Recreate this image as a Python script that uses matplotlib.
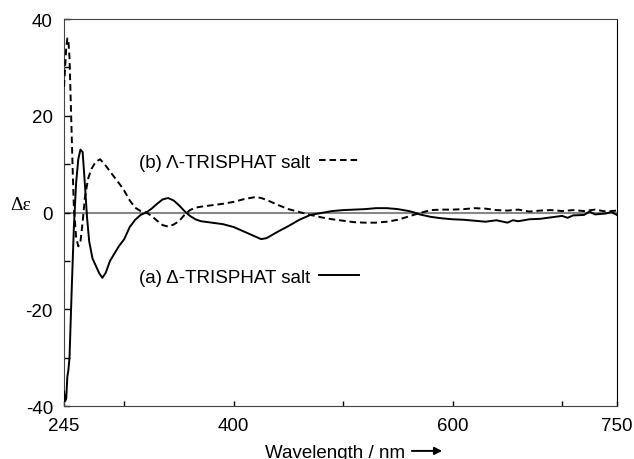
import numpy as np
import matplotlib
matplotlib.use("Agg")
import matplotlib.pyplot as plt

plt.rcParams['font.family'] = ['Liberation Sans', 'DejaVu Sans']

# (a) Delta-TRISPHAT salt (solid)
wl_a = [245, 246, 247, 248, 249, 250, 252, 254, 256, 258, 260, 262, 264, 266, 268,
        271, 274, 277, 280, 283, 287, 291, 295, 300, 305, 310, 315, 320, 325, 330,
        335, 340, 345, 350, 355, 360, 365, 370, 380, 390, 400, 410, 420, 425, 430,
        440, 450, 460, 470, 480, 490, 500, 510, 520, 530, 540, 550, 560, 565, 570,
        580, 590, 600, 610, 620, 630, 640, 650, 655, 660, 670, 680, 690, 700, 705,
        710, 720, 725, 730, 740, 745, 750]
de_a = [-37, -39, -38.5, -34, -32.5, -30, -16, -3, 6, 11, 13, 12.5, 6, -1, -6,
        -9.5, -11, -12.5, -13.5, -12.5, -10, -8.5, -7, -5.5, -3, -1.5, -0.5, 0, 0.8, 1.8,
        2.7, 3.0, 2.5, 1.5, 0.3, -0.7, -1.4, -1.8, -2.1, -2.4, -3.0, -4.0, -5.0, -5.5, -5.3,
        -4.0, -2.8, -1.5, -0.5, -0.1, 0.3, 0.5, 0.6, 0.7, 0.9, 0.9, 0.7, 0.3, 0.0, -0.4,
        -0.9, -1.2, -1.4, -1.5, -1.7, -1.9, -1.6, -2.1, -1.6, -1.8, -1.4, -1.3, -1.0, -0.7, -1.1,
        -0.6, -0.5, 0.2, -0.4, -0.2, 0.1, -0.5]

# (b) Lambda-TRISPHAT salt (dashed)
wl_b = [245, 246, 247, 248, 249, 250, 251, 252, 253, 254, 256, 258, 260, 262, 264,
        267, 270, 274, 278, 282, 287, 292, 297, 300, 305, 310, 315, 320, 325, 330,
        335, 340, 345, 350, 355, 360, 365, 370, 380, 390, 400, 410, 420, 425, 430,
        440, 450, 460, 470, 480, 490, 500, 510, 520, 530, 540, 550, 560, 570, 575,
        580, 590, 600, 610, 620, 630, 640, 650, 660, 670, 680, 690, 700, 710, 720,
        730, 740, 750]
de_b = [26, 30, 34, 36, 35.5, 32, 24, 16, 8, 1, -5, -7, -6, -2, 3,
        7, 9, 10.5, 11, 10, 8.5, 7, 5.5, 4.5, 2.5, 1, 0.3, 0, -0.7, -1.7,
        -2.6, -2.9, -2.5, -1.8, -0.5, 0.5, 1, 1.2, 1.5, 1.8, 2.2, 2.8, 3.2, 3.0, 2.6,
        1.6, 0.7, 0.1, -0.5, -1.0, -1.4, -1.7, -2.0, -2.1, -2.1, -1.9, -1.5, -0.8, -0.1, 0.2,
        0.5, 0.6, 0.6, 0.7, 0.9, 0.8, 0.5, 0.4, 0.6, 0.2, 0.4, 0.5, 0.3, 0.5, 0.3,
        0.6, 0.2, 0.4]

label_a = "(a) \u0394-TRISPHAT salt"
label_b = "(b) \u039b-TRISPHAT salt"

fig, ax = plt.subplots(figsize=(6.34, 4.6), dpi=100)
fig.subplots_adjust(left=0.101, right=0.973, top=0.9565, bottom=0.1152)

ax.axhline(0, color='#888888', lw=1.5, zorder=1)
la, = ax.plot(wl_a, de_a, color='black', lw=1.4, zorder=3)
lb, = ax.plot(wl_b, de_b, color='black', lw=1.4, linestyle=(0, (3.4, 2.0)), zorder=3)

ax.set_xlim(245, 750)
ax.set_ylim(-40, 40)

ax.set_xticks([245, 300, 400, 500, 600, 700, 750])
ax.set_xticklabels(['245', '', '400', '', '600', '', '750'])
ax.set_yticks(np.arange(-40, 41, 10))
ax.set_yticklabels(['-40', '', '-20', '', '0', '', '20', '', '40'])
ax.tick_params(axis='x', direction='in', length=3.5, width=1, labelsize=13.5, pad=8)
ax.tick_params(axis='y', direction='in', length=4.5, width=1, labelsize=13.5, pad=8)

for side in ['left', 'top', 'bottom']:
    ax.spines[side].set_color('#444444')
ax.spines['right'].set_color('black')

ax.set_ylabel("\u0394\u03b5", rotation=0, fontsize=14, family=['Liberation Serif', 'DejaVu Serif'])
ax.yaxis.set_label_coords(-0.078, 0.5)
ax.set_xlabel("Wavelength / nm", fontsize=13.5)
ax.xaxis.set_label_coords(0.49, -0.097)
ax.annotate('', xy=(0.689, -0.116), xytext=(0.624, -0.116), xycoords='axes fraction',
            arrowprops=dict(arrowstyle='-|>', color='black', lw=1.4, mutation_scale=11),
            annotation_clip=False)

leg_b = ax.legend([lb], [label_b], loc='center left', bbox_to_anchor=(0.135, 0.630),
                  frameon=False, markerfirst=False, handlelength=2.1, handletextpad=0.5,
                  borderpad=0, borderaxespad=0, fontsize=13.5)
ax.add_artist(leg_b)
ax.legend([la], [label_a], loc='center left', bbox_to_anchor=(0.135, 0.333),
          frameon=False, markerfirst=False, handlelength=2.1, handletextpad=0.5,
          borderpad=0, borderaxespad=0, fontsize=13.5)

fig.savefig("out.png", dpi=100)
